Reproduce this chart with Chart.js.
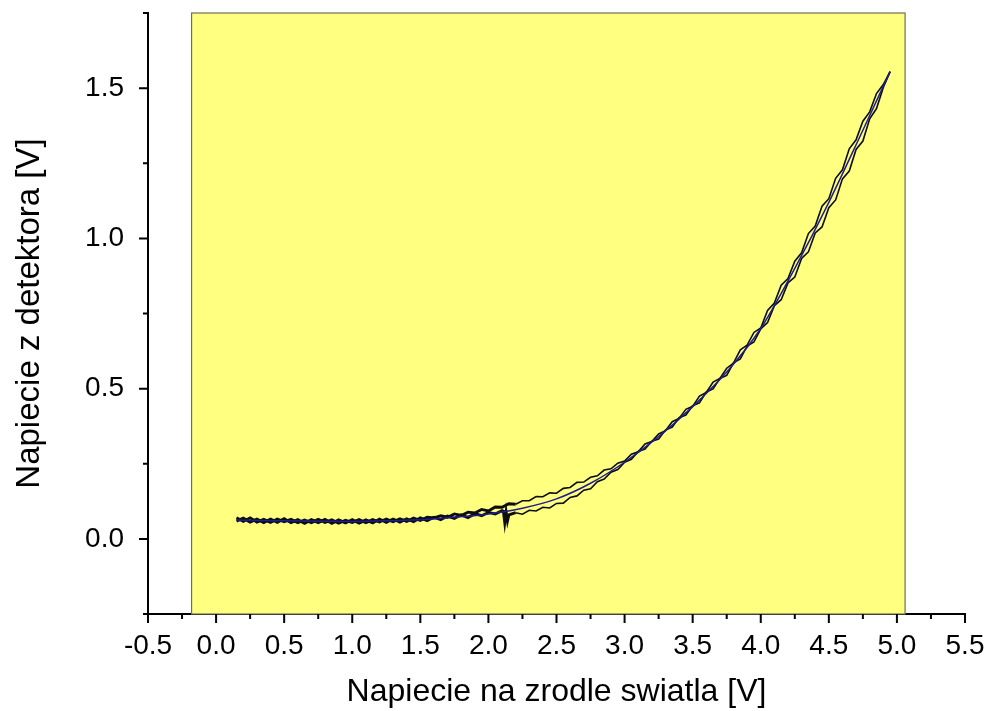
<!DOCTYPE html>
<html>
<head>
<meta charset="utf-8">
<script src="https://cdn.jsdelivr.net/npm/chart.js@4/dist/chart.umd.min.js"></script>
<style>
html,body{margin:0;padding:0;background:#fff;}
#wrap{width:985px;height:711px;position:relative;}
</style>
</head>
<body>
<div id="wrap"><canvas id="c" width="985" height="711"></canvas></div>
<script>
// ---- data ----
const xTitle = "Napiecie na zrodle swiatla [V]";
const yTitle = "Napiecie z detektora [V]";

const xRange = [-0.5, 5.5];
const yRange = [-0.25, 1.75];
const bgRange = [-0.18, 5.06]; // yellow plot-layer extent in x

// measured trace, branch 1 (upper in the loop)
const xUp = [0.15,0.20,0.25,0.30,0.35,0.40,0.45,0.50,0.55,0.60,0.65,0.70,0.75,0.80,0.85,0.90,0.95,1.00,1.05,1.10,1.15,1.20,1.25,1.30,1.35,1.40,1.45,1.50,1.55,1.60,1.65,1.70,1.75,1.80,1.85,1.90,1.95,2.00,2.05,2.10,2.15,2.20,2.25,2.30,2.35,2.40,2.45,2.50,2.55,2.60,2.65,2.70,2.75,2.80,2.85,2.90,2.95,3.00,3.05,3.10,3.15,3.20,3.25,3.30,3.35,3.40,3.45,3.50,3.55,3.60,3.65,3.70,3.75,3.80,3.85,3.90,3.95,4.00,4.05,4.10,4.15,4.20,4.25,4.30,4.35,4.40,4.45,4.50,4.55,4.60,4.65,4.70,4.75,4.80,4.85,4.90,4.95];
const yUp = [0.070,0.058,0.070,0.056,0.065,0.055,0.066,0.057,0.065,0.054,0.063,0.054,0.065,0.055,0.063,0.052,0.062,0.055,0.064,0.054,0.064,0.056,0.066,0.057,0.067,0.058,0.069,0.061,0.072,0.070,0.077,0.072,0.083,0.078,0.089,0.086,0.098,0.093,0.106,0.105,0.117,0.115,0.127,0.127,0.141,0.140,0.153,0.152,0.168,0.171,0.188,0.189,0.205,0.210,0.229,0.233,0.252,0.259,0.282,0.290,0.316,0.324,0.349,0.360,0.390,0.401,0.431,0.441,0.475,0.487,0.522,0.534,0.568,0.585,0.629,0.645,0.687,0.702,0.760,0.785,0.844,0.866,0.924,0.952,1.016,1.041,1.107,1.132,1.200,1.228,1.298,1.328,1.390,1.421,1.482,1.512,1.555];

// measured trace, branch 2 (lower in the loop)
const xDown = [0.15,0.20,0.25,0.30,0.35,0.40,0.45,0.50,0.55,0.60,0.65,0.70,0.75,0.80,0.85,0.90,0.95,1.00,1.05,1.10,1.15,1.20,1.25,1.30,1.35,1.40,1.45,1.50,1.55,1.60,1.65,1.70,1.75,1.80,1.85,1.90,1.95,2.00,2.05,2.10,2.11,2.12,2.13,2.14,2.15,2.20,2.25,2.30,2.35,2.40,2.45,2.50,2.55,2.60,2.65,2.70,2.75,2.80,2.85,2.90,2.95,3.00,3.05,3.10,3.15,3.20,3.25,3.30,3.35,3.40,3.45,3.50,3.55,3.60,3.65,3.70,3.75,3.80,3.85,3.90,3.95,4.00,4.05,4.10,4.15,4.20,4.25,4.30,4.35,4.40,4.45,4.50,4.55,4.60,4.65,4.70,4.75,4.80,4.85,4.90,4.95];
const yDown = [0.059,0.069,0.056,0.066,0.054,0.066,0.055,0.067,0.054,0.064,0.052,0.064,0.054,0.065,0.052,0.063,0.053,0.064,0.052,0.063,0.053,0.066,0.055,0.066,0.056,0.067,0.057,0.070,0.061,0.072,0.064,0.076,0.068,0.080,0.071,0.084,0.077,0.088,0.083,0.094,0.092,0.055,0.090,0.060,0.080,0.087,0.082,0.095,0.093,0.105,0.103,0.118,0.119,0.138,0.143,0.162,0.167,0.190,0.199,0.222,0.231,0.255,0.265,0.291,0.299,0.325,0.332,0.362,0.372,0.403,0.412,0.443,0.453,0.489,0.499,0.534,0.544,0.586,0.599,0.642,0.655,0.699,0.720,0.776,0.796,0.852,0.871,0.933,0.955,1.018,1.038,1.102,1.128,1.198,1.224,1.296,1.324,1.398,1.432,1.502,1.555];

// smooth fitted curve (blue)
const xFit = [0.15,0.30,0.50,0.75,1.00,1.25,1.50,1.75,2.00,2.25,2.50,2.75,3.00,3.25,3.50,3.75,4.00,4.25,4.50,4.75,4.95];
const yFit = [0.063,0.061,0.060,0.059,0.058,0.060,0.064,0.072,0.083,0.102,0.133,0.185,0.255,0.340,0.440,0.555,0.700,0.900,1.120,1.360,1.555];

// ---- helpers ----
const toXY = (xs, ys) => xs.map((x, i) => ({x: x, y: ys[i]}));
const FONT = "'Liberation Sans', Arial, sans-serif";

const bgPlugin = {
  id: 'bgLayer',
  beforeDatasetsDraw(chart) {
    const {ctx, chartArea, scales} = chart;
    const x0 = scales.x.getPixelForValue(bgRange[0]);
    const x1 = scales.x.getPixelForValue(bgRange[1]);
    const y0 = chartArea.top;
    const y1 = chartArea.bottom;
    ctx.save();
    ctx.fillStyle = '#ffff80';
    ctx.fillRect(x0, y0, x1 - x0, y1 - y0);
    ctx.strokeStyle = '#707058';
    ctx.lineWidth = 1.2;
    ctx.strokeRect(x0, y0, x1 - x0, y1 - y0);
    ctx.restore();
  }
};

const tickPlugin = {
  id: 'outTicks',
  afterDraw(chart) {
    const {ctx, chartArea, scales} = chart;
    ctx.save();
    ctx.strokeStyle = '#000';
    ctx.lineWidth = 2;
    ctx.beginPath();
    scales.x.ticks.forEach(t => {
      const px = scales.x.getPixelForValue(t.value);
      const major = Math.abs(Math.round(t.value * 2) - t.value * 2) < 1e-6;
      ctx.moveTo(px, chartArea.bottom);
      ctx.lineTo(px, chartArea.bottom + (major ? 9 : 5));
    });
    scales.y.ticks.forEach(t => {
      const py = scales.y.getPixelForValue(t.value);
      const major = Math.abs(Math.round(t.value * 2) - t.value * 2) < 1e-6;
      ctx.moveTo(chartArea.left, py);
      ctx.lineTo(chartArea.left - (major ? 9 : 5), py);
    });
    ctx.stroke();
    ctx.restore();
  }
};

const majorLabel = v => {
  const isMajor = Math.abs(Math.round(v * 2) - v * 2) < 1e-6;
  return isMajor ? v.toFixed(1) : '';
};

// noise band of the trace looks heavier on the flat part
const traceWidth = ctx => (ctx.p0.parsed.x < 2.2 ? 2.9 : 1.6);

new Chart(document.getElementById('c'), {
  type: 'line',
  data: {
    datasets: [
      {data: toXY(xFit, yFit), borderColor: '#1c1c96', borderWidth: 1.5, pointRadius: 0, cubicInterpolationMode: 'monotone', fill: false},
      {data: toXY(xUp, yUp), borderColor: '#0d0d0d', borderWidth: 1.6, pointRadius: 0, tension: 0, fill: false, segment: {borderWidth: traceWidth}},
      {data: toXY(xDown, yDown), borderColor: '#0d0d0d', borderWidth: 1.6, pointRadius: 0, tension: 0, fill: false, segment: {borderWidth: traceWidth}}
    ]
  },
  options: {
    responsive: false,
    animation: false,
    layout: {padding: {top: 13, right: 20, bottom: 0, left: 0}},
    plugins: {legend: {display: false}, tooltip: {enabled: false}},
    scales: {
      x: {
        type: 'linear', min: xRange[0], max: xRange[1],
        grid: {display: false, drawTicks: false},
        border: {display: true, color: '#000', width: 2},
        ticks: {stepSize: 0.25, autoSkip: false, maxRotation: 0, padding: 15, color: '#000',
                font: {family: FONT, size: 28}, callback: majorLabel},
        title: {display: true, text: xTitle, color: '#000', font: {family: FONT, size: 32}, padding: {top: 0, bottom: 0}},
        afterFit(s) { s.height = 97; s.paddingLeft = 0; s.paddingRight = 0; }
      },
      y: {
        type: 'linear', min: yRange[0], max: yRange[1],
        grid: {display: false, drawTicks: false},
        border: {display: true, color: '#000', width: 2},
        ticks: {stepSize: 0.25, autoSkip: false, padding: 24, color: '#000',
                font: {family: FONT, size: 28}, callback: majorLabel},
        title: {display: true, text: yTitle, color: '#000', font: {family: FONT, size: 33}, padding: {top: 10, bottom: 0}},
        afterFit(s) { s.width = 148; s.paddingTop = 0; s.paddingBottom = 0; }
      }
    }
  },
  plugins: [bgPlugin, tickPlugin]
});
</script>
</body>
</html>
